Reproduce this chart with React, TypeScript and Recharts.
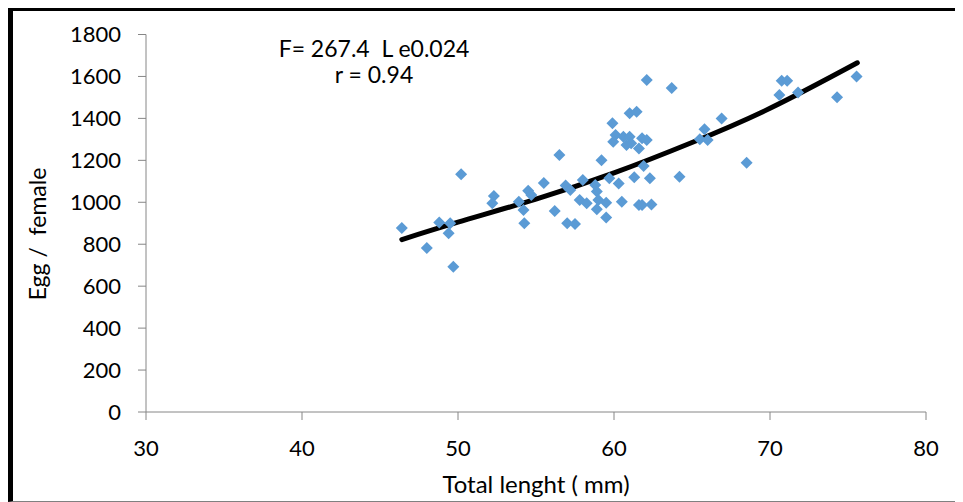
import React from "react";
import { ComposedChart, Scatter, Line, XAxis, YAxis } from "recharts";

// observed fecundity per female vs total length
const lengths = [
  46.4, 48.0, 48.8, 49.5, 49.4, 49.7, 50.2, 52.3, 52.2, 53.9, 54.2, 54.25, 54.5, 54.7, 55.5,
  56.2, 56.5, 56.9, 57.2, 57.0, 57.5, 57.8, 58.0, 58.25, 58.8, 58.9, 58.9, 59.0, 59.5, 59.5,
  59.2, 59.7, 60.3, 60.5, 59.9, 60.1, 59.95, 60.6, 61.0, 61.1, 60.8, 61.6, 61.8, 62.1, 61.0,
  61.45, 61.9, 61.3, 62.3, 61.6, 61.8, 62.4, 62.1, 63.7, 64.2, 65.8, 65.5, 66.0, 66.9, 68.5,
  70.6, 70.75, 71.1, 71.8, 74.3, 75.55,
];
const eggs = [
  877, 782, 903, 900, 852, 693, 1134, 1030, 995, 1003, 963, 900, 1055, 1035, 1092,
  958, 1225, 1080, 1059, 900, 897, 1011, 1106, 995, 1082, 1051, 967, 1011, 998, 928,
  1200, 1114, 1090, 1003, 1377, 1321, 1289, 1313, 1313, 1281, 1273, 1257, 1305, 1297, 1424,
  1432, 1173, 1119, 1114, 987, 987, 990, 1583, 1545, 1122, 1348, 1300, 1297, 1400, 1189,
  1512, 1580, 1580, 1523, 1501, 1600,
];

// fitted curve
const curveX = [46.4, 50, 55, 60, 65, 70, 75.6];
const curveY = [822, 905, 1015, 1140, 1285, 1448, 1665];

const xTicks = [30, 40, 50, 60, 70, 80];
const yTicks = [0, 200, 400, 600, 800, 1000, 1200, 1400, 1600, 1800];

const points = lengths.map((x, i) => ({ x, y: eggs[i] }));
const curve = curveX.map((x, i) => ({ x, y: curveY[i] }));

const FONT = "Lato, 'Open Sans', sans-serif";
const AXIS = "#868686";

const Diamond = (props: any) => {
  const { cx, cy } = props;
  const r = 6;
  return (
    <polygon
      points={`${cx},${cy - r} ${cx + r},${cy} ${cx},${cy + r} ${cx - r},${cy}`}
      fill="#5B9BD5"
    />
  );
};

export default function App() {
  const tick = { fill: "#000", fontSize: 22, fontFamily: FONT };
  return (
    <div
      style={{
        position: "relative",
        width: 955,
        height: 494,
        boxSizing: "border-box",
        borderLeft: "5px solid #000",
        borderTop: "3px solid #000",
        borderBottom: "1px solid #808080",
        fontFamily: FONT,
      }}
    >
      <ComposedChart
        width={942}
        height={490}
        margin={{ top: 23.5, right: 29, bottom: 29, left: 0 }}
        style={{ position: "absolute", left: 0, top: 0 }}
      >
        <XAxis
          dataKey="x"
          type="number"
          domain={[30, 80]}
          ticks={xTicks}
          height={60}
          stroke={AXIS}
          tickSize={8}
          tickMargin={20}
          tick={tick}
        />
        <YAxis
          type="number"
          domain={[0, 1800]}
          ticks={yTicks}
          width={133}
          stroke={AXIS}
          tickSize={8}
          tickMargin={17}
          tick={tick}
        />
        <Scatter data={points} dataKey="y" shape={<Diamond />} isAnimationActive={false} />
        <Line
          data={curve}
          dataKey="y"
          type="natural"
          stroke="#000"
          strokeWidth={5}
          strokeLinecap="round"
          dot={false}
          activeDot={false}
          isAnimationActive={false}
        />
      </ComposedChart>
      <div style={{ position: "absolute", left: 251, top: 24, width: 220, textAlign: "center", fontSize: 23, lineHeight: "26px" }}>
        F= 267.4&nbsp;&nbsp;L e0.024
        <br />
        r = 0.94
      </div>
      <div style={{ position: "absolute", left: 323, top: 458, width: 400, textAlign: "center", fontSize: 24 }}>
        Total lenght ( mm)
      </div>
      <div
        style={{
          position: "absolute",
          left: 24 - 100,
          top: 222 - 13,
          width: 200,
          textAlign: "center",
          fontSize: 23,
          transform: "rotate(-90deg)",
        }}
      >
        Egg /&nbsp;&nbsp;female
      </div>
    </div>
  );
}
